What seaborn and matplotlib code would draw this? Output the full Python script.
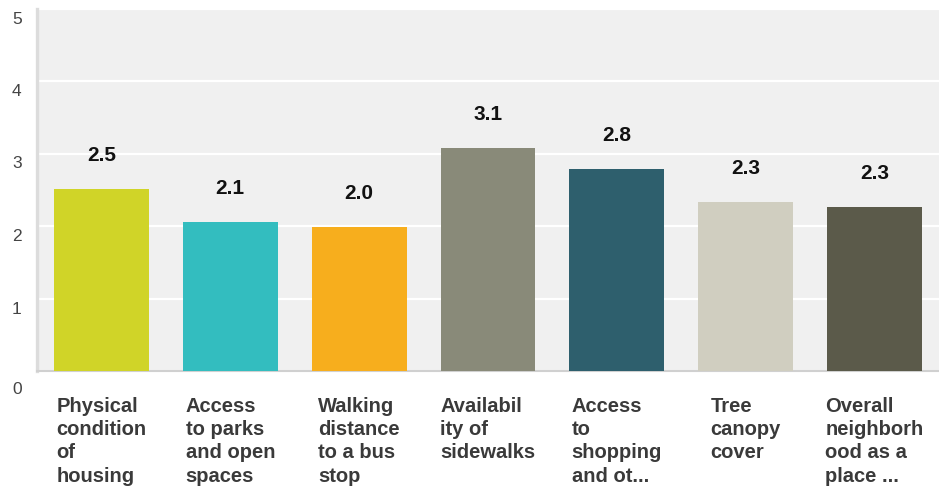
import matplotlib
matplotlib.use("Agg")
import matplotlib.pyplot as plt
import matplotlib.transforms as mtransforms
import seaborn as sns
import pandas as pd

categories = [
    "Physical\ncondition\nof\nhousing",
    "Access\nto parks\nand open\nspaces",
    "Walking\ndistance\nto a bus\nstop",
    "Availabil\nity of\nsidewalks",
    "Access\nto\nshopping\nand ot...",
    "Tree\ncanopy\ncover",
    "Overall\nneighborh\nood as a\nplace ...",
]
values = [2.51, 2.06, 1.99, 3.08, 2.79, 2.33, 2.26]
colors = ["#d0d428", "#33bdbf", "#f7ae1d", "#898a79", "#2e5f6d", "#d0cec0", "#5b5a4a"]
y_ticks = [0, 1, 2, 3, 4, 5]

df = pd.DataFrame({"category": categories, "value": values})

sns.set_theme(style="white")
plt.rcParams["font.family"] = ["Liberation Sans", "DejaVu Sans"]

fig = plt.figure(figsize=(9.39, 4.89), dpi=100)
ax = fig.add_axes([37 / 939, (489 - 372) / 489, 1 - 37 / 939, (372 - 9.5) / 489])
ax.set_facecolor("#f0f0f0")

sns.barplot(data=df, x="category", y="value", hue="category", palette=colors,
            width=0.736, legend=False, saturation=1, linewidth=0,
            ax=ax, zorder=3)

ax.set_ylim(0, 5)
ax.set_xlim(-0.5, len(categories) - 0.5)
ax.set_yticks(y_ticks)
ax.yaxis.grid(True, color="white", linewidth=1.6, zorder=0)
ax.set_axisbelow(True)
ax.set_xlabel("")
ax.set_ylabel("")

for name in ("top", "right"):
    ax.spines[name].set_visible(False)
ax.spines["left"].set_color("#dcdcdc")
ax.spines["left"].set_linewidth(2.4)
ax.spines["bottom"].set_color("#d0d0d0")
ax.spines["bottom"].set_linewidth(1.5)

ax.tick_params(axis="both", length=0)
ax.tick_params(axis="y", labelsize=12.5, labelcolor="#444444", pad=11)
ax.tick_params(axis="x", pad=18)
# y labels sit a little below their gridlines; the zero label drops further
for tick_value, lbl in zip(y_ticks, ax.get_yticklabels()):
    shift = 16 if tick_value == 0 else 8
    lbl.set_transform(lbl.get_transform()
                      + mtransforms.ScaledTranslation(0, -shift / 100, fig.dpi_scale_trans))
for lbl in ax.get_xticklabels():
    lbl.set_fontsize(14.5)
    lbl.set_fontweight("bold")
    lbl.set_color("#3a3a3a")
    lbl.set_multialignment("left")
    lbl.set_verticalalignment("top")
    lbl.set_linespacing(1.28)

for container in ax.containers:
    ax.bar_label(container, fmt="%.1f", padding=18, fontsize=15,
                 fontweight="bold", color="#111111")

fig.savefig("out.png", dpi=100)
